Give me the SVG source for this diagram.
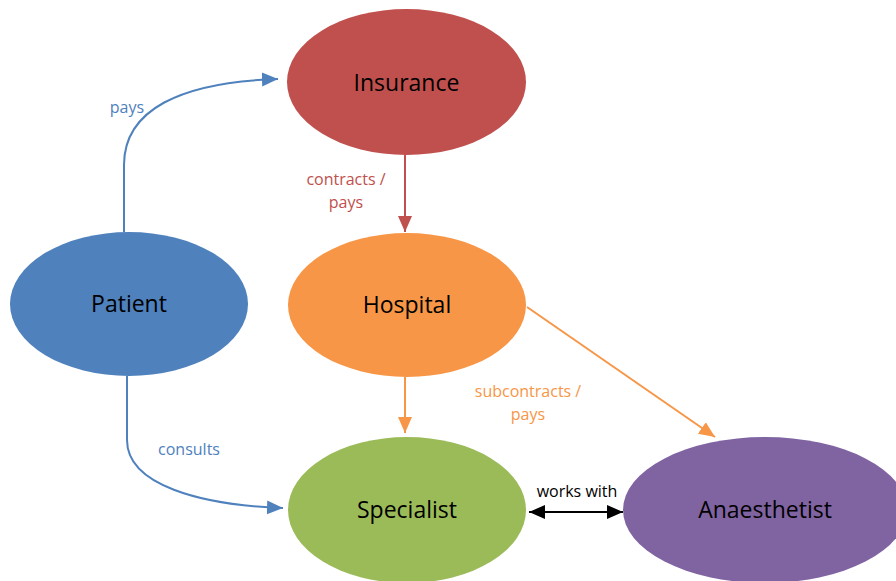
<svg xmlns="http://www.w3.org/2000/svg" width="896" height="581" viewBox="0 0 896 581">
<style>
.node-label{font-family:"Open Sans","Liberation Sans",sans-serif;font-size:23px;fill:#000;text-anchor:middle}
.lbl{font-family:"Open Sans","Liberation Sans",sans-serif;font-size:16px;text-anchor:middle}
.conn{fill:none;stroke-width:2}
</style>
<defs>
<marker id="aRed" viewBox="0 0 16 16" refX="16" refY="8" markerWidth="16" markerHeight="16" markerUnits="userSpaceOnUse" orient="auto"><path d="M0,1 L16,8 L0,15 z" fill="#C0504D"/></marker>
<marker id="aOrange" viewBox="0 0 16 16" refX="16" refY="8" markerWidth="16" markerHeight="16" markerUnits="userSpaceOnUse" orient="auto"><path d="M0,1 L16,8 L0,15 z" fill="#F79646"/></marker>
<marker id="aBlue2" viewBox="0 0 16 16" refX="16" refY="8" markerWidth="16" markerHeight="16" markerUnits="userSpaceOnUse" orient="auto"><path d="M0,1 L16,8 L0,15 z" fill="#4F81BD"/></marker>
<marker id="aBlack" viewBox="0 0 16 16" refX="16" refY="8" markerWidth="16" markerHeight="16" markerUnits="userSpaceOnUse" orient="auto-start-reverse"><path d="M0,1 L16,8 L0,15 z" fill="#000"/></marker>
</defs>
<rect width="896" height="581" fill="#fff"/>
<g id="insurance"><ellipse cx="406.5" cy="82" rx="119.5" ry="73" fill="#C0504D"/><text class="node-label" x="406.5" y="91">Insurance</text></g>
<g id="hospital"><ellipse cx="407" cy="305" rx="119" ry="72" fill="#F79646"/><text class="node-label" x="407" y="313">Hospital</text></g>
<g id="patient"><ellipse cx="129" cy="304" rx="119" ry="72" fill="#4F81BD"/><text class="node-label" x="129" y="312">Patient</text></g>
<g id="specialist"><ellipse cx="407" cy="510" rx="119" ry="73" fill="#9BBB59"/><text class="node-label" x="407" y="518">Specialist</text></g>
<g id="anaesthetist"><ellipse cx="765" cy="510" rx="142" ry="73" fill="#8064A2"/><text class="node-label" x="765" y="518">Anaesthetist</text></g>
<g id="connectors">
<path class="conn" stroke="#4F81BD" d="M124,232 L124,165 C124,110 180,82 278,79" marker-end="url(#aBlue2)"/>
<path class="conn" stroke="#C0504D" d="M405,155 L405,232" marker-end="url(#aRed)"/>
<path class="conn" stroke="#F79646" d="M405,377 L405,433" marker-end="url(#aOrange)"/>
<path class="conn" stroke="#F79646" d="M527,307 L715,437" marker-end="url(#aOrange)"/>
<path class="conn" stroke="#4F81BD" d="M127,376 L127,440 C127,485 200,505 283,508" marker-end="url(#aBlue2)"/>
<path class="conn" stroke="#000" d="M529,512 L623,512" marker-start="url(#aBlack)" marker-end="url(#aBlack)"/>
<text class="lbl" fill="#4F81BD" x="127" y="113">pays</text>
<text class="lbl" fill="#C0504D" x="346" y="185">contracts /</text>
<text class="lbl" fill="#C0504D" x="346" y="208">pays</text>
<text class="lbl" fill="#F79646" x="528" y="397">subcontracts /</text>
<text class="lbl" fill="#F79646" x="528" y="420">pays</text>
<text class="lbl" fill="#4F81BD" x="189" y="455">consults</text>
<text class="lbl" fill="#000" x="577" y="497">works with</text>
</g>
</svg>
